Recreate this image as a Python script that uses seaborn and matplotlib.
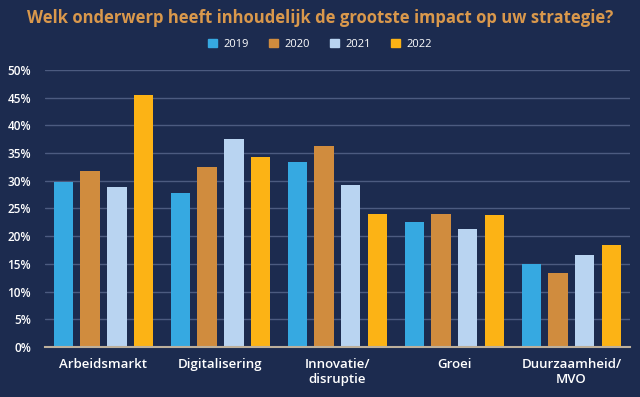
import numpy as np
import pandas as pd
import matplotlib
matplotlib.use("Agg")
import matplotlib.pyplot as plt
import matplotlib.patches as mpatches
import seaborn as sns

# ── Data ──────────────────────────────────────
categories = ["Arbeidsmarkt", "Digitalisering", "Innovatie/\ndisruptie", "Groei", "Duurzaamheid/\nMVO"]
years = ["2019", "2020", "2021", "2022"]
v2019 = [29.7, 27.7, 33.3, 22.5, 15.0]
v2020 = [31.8, 32.4, 36.2, 24.0, 13.3]
v2021 = [28.9, 37.5, 29.2, 21.2, 16.6]
v2022 = [45.5, 34.3, 24.0, 23.8, 18.4]
yticks = [0, 5, 10, 15, 20, 25, 30, 35, 40, 45, 50]

# ── Style ──────────────────────────────────────
BG = "#1C2B4F"
COLOURS = ["#36A9E1", "#D08C3E", "#B9D4F1", "#FCB315"]
TITLE_COLOUR = "#D9984C"

sns.set_theme(style="white")
plt.rcParams.update({
    "figure.facecolor": BG,
    "axes.facecolor": BG,
    "text.color": "white",
    "xtick.color": "white",
    "ytick.color": "white",
})
plt.rcParams["font.family"] = ["Open Sans", "DejaVu Sans"]

df = pd.DataFrame({
    "category": np.repeat(categories, len(years)),
    "year": years * len(categories),
    "value": [v for row in zip(v2019, v2020, v2021, v2022) for v in row],
})

fig = plt.figure(figsize=(6.4, 3.97), dpi=100)
ax = fig.add_axes([0.0703, 0.126, 0.914, 0.698])

sns.barplot(
    data=df, x="category", y="value", hue="year",
    palette=COLOURS, width=0.91, gap=0.27, saturation=1,
    linewidth=0, edgecolor="none", legend=False, ax=ax,
)

ax.set_ylim(0, 50)
ax.set_xlim(-0.5, 4.5)
ax.set_yticks(yticks)
ax.set_yticklabels([f"{t}%" for t in yticks], fontsize=8.5, fontweight="semibold")
ax.tick_params(axis="y", length=0, pad=10)
ax.tick_params(axis="x", length=0, pad=8, labelsize=9.5)
for lbl in ax.get_xticklabels():
    lbl.set_fontweight("semibold")
    lbl.set_linespacing(1.15)
ax.yaxis.grid(True, color="#4C5B80", linewidth=1.0)
ax.set_axisbelow(True)
for s in ["top", "right", "left"]:
    ax.spines[s].set_visible(False)
ax.spines["bottom"].set_color("#BDB09C")
ax.spines["bottom"].set_linewidth(1.5)
ax.set_xlabel("")
ax.set_ylabel("")

fig.text(0.5, 0.955, "Welk onderwerp heeft inhoudelijk de grootste impact op uw strategie?",
         ha="center", va="center", fontsize=12.0, fontweight="bold", color=TITLE_COLOUR)

handles = [mpatches.Patch(color=c, label=y) for c, y in zip(COLOURS, years)]
fig.legend(handles=handles, loc="center", bbox_to_anchor=(0.5, 0.889), ncol=4,
           frameon=False, fontsize=8, handlelength=0.8, handleheight=0.8,
           handletextpad=0.6, columnspacing=1.8)

fig.savefig("out.png", dpi=100, facecolor=BG)
